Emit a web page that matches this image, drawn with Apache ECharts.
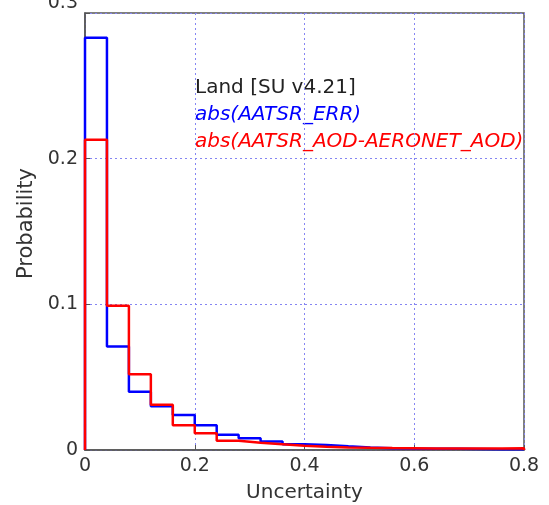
<!DOCTYPE html>
<html><head><meta charset="utf-8">
<script src="https://cdn.jsdelivr.net/npm/echarts@6/dist/echarts.min.js"></script>
<style>html,body{margin:0;padding:0;background:#fff}#c{width:549px;height:505px}</style>
</head><body><div id="c"></div>
<script>
// bin edges (width 0.04) from 0 to 0.8
const binStarts = [0,0.04,0.08,0.12,0.16,0.20,0.24,0.28,0.32,0.36,0.40,0.44,0.48,0.52,0.56,0.60,0.64,0.68,0.72,0.76];
const binEnd = 0.8;
const errVals = [0.283,0.071,0.040,0.030,0.024,0.017,0.0105,0.008,0.0058,0.004,0.0035,0.0025,0.0018,0.0012,0.0010,0.0009,0.0008,0.0007,0.0006,0.0006];
const diffVals = [0.213,0.099,0.052,0.031,0.017,0.0115,0.0063,0.005,0.004,0.003,0.0022,0.0018,0.0015,0.0013,0.0012,0.0011,0.0010,0.0010,0.0010,0.0012];
const xTicks = [0,0.2,0.4,0.6,0.8];
const yTicks = [0,0.1,0.2,0.3];
const labels = ['Land [SU v4.21]','abs(AATSR_ERR)','abs(AATSR_AOD-AERONET_AOD)'];

function stepData(vals){
  const d = [[binStarts[0],0]];
  vals.forEach((v,i)=>d.push([binStarts[i],v]));
  d.push([binEnd, vals[vals.length-1]]);
  d.push([binEnd, 0]);
  return d;
}
const chart = echarts.init(document.getElementById('c'));
const font = 'DejaVu Sans';
chart.setOption({
  animation:false,
  grid:{left:85,right:25,top:13,bottom:55,containLabel:false,outerBoundsMode:'none',
    show:true,borderColor:'#555',borderWidth:1.5,backgroundColor:'transparent'},
  xAxis:{type:'value',min:0,max:0.8,interval:0.2,
    name:'Uncertainty',nameLocation:'middle',nameGap:33,
    nameTextStyle:{fontFamily:font,fontSize:20,color:'#333'},
    axisLine:{show:true,lineStyle:{color:'#555',width:1.5}},
    axisTick:{show:true,inside:true,length:5,lineStyle:{color:'#555'}},
    axisLabel:{fontFamily:font,fontSize:19,color:'#333',margin:7,formatter:v=>String(v)},
    splitLine:{show:true,lineStyle:{type:[2,3],color:'#8585f2',width:1}}},
  yAxis:{type:'value',min:0,max:0.3,interval:0.1,
    name:'Probability',nameLocation:'middle',nameGap:46,
    nameTextStyle:{fontFamily:font,fontSize:21,color:'#333',padding:[0,0,0,16]},
    axisLine:{show:true,lineStyle:{color:'#555',width:1.5}},
    axisTick:{show:true,inside:true,length:5,lineStyle:{color:'#555'}},
    axisLabel:{fontFamily:font,fontSize:19,color:'#333',margin:7,
      formatter:v=>v===0.3?'{t|0.3}':String(v),
      rich:{t:{fontFamily:font,fontSize:19,color:'#333',padding:[0,0,20,0]}}},
    splitLine:{show:true,lineStyle:{type:[2,3],color:'#8585f2',width:1}}},
  series:[
    {type:'line',step:'end',data:stepData(errVals),showSymbol:false,symbol:'none',
     lineStyle:{color:'#0000ff',width:2.5},z:2},
    {type:'line',step:'end',data:stepData(diffVals),showSymbol:false,symbol:'none',
     lineStyle:{color:'#ff0000',width:2.5},z:3}
  ],
  graphic:[
    {type:'text',left:195,top:78,style:{text:labels[0],fontFamily:font,fontSize:20,fill:'#222'}},
    {type:'text',left:195,top:105,style:{text:labels[1],fontFamily:font,fontSize:20,fontStyle:'italic',fill:'#0000ff'}},
    {type:'text',left:195,top:132,style:{text:labels[2],fontFamily:font,fontSize:20,fontStyle:'italic',fill:'#ff0000'}}
  ]
});
</script></body></html>
